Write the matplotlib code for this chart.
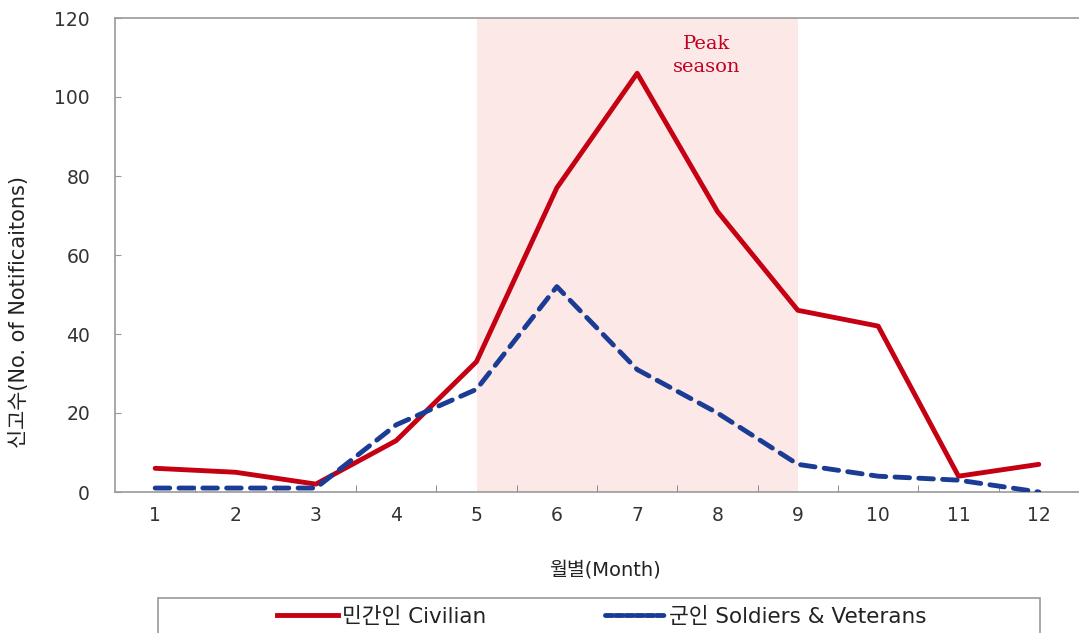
import matplotlib
matplotlib.use("Agg")
import matplotlib.pyplot as plt
from matplotlib.lines import Line2D
from matplotlib.patches import Rectangle

plt.rcParams['font.family'] = ['DejaVu Sans', 'Noto Sans CJK KR']

months = [1, 2, 3, 4, 5, 6, 7, 8, 9, 10, 11, 12]
month_labels = [str(m) for m in months]
civilian = [6, 5, 2, 13, 33, 77, 106, 71, 46, 42, 4, 7]
soldiers = [1, 1, 1, 17, 26, 52, 31, 20, 7, 4, 3, 0]
peak_start, peak_end = 5, 9
yticks = [0, 20, 40, 60, 80, 100, 120]

fig = plt.figure(figsize=(10.79, 6.33), dpi=100)
ax = fig.add_axes([115/1079, 1 - 492/633, 1 - 115/1079, (492 - 18)/633])

ax.axvspan(peak_start, peak_end, color='#FDE8E8', zorder=0, lw=0)
red = '#C40012'
blue = '#1B3C94'
ax.plot(months, civilian, color=red, lw=3.5, zorder=3, solid_capstyle='round')
ax.plot(months, soldiers, color=blue, lw=3.5, zorder=3, linestyle=(0, (3.0, 1.9)),
        dash_capstyle='round')

ax.text(7.87, 110.5, 'Peak\nseason', color='#C00020', ha='center', va='center',
        fontsize=14, family='DejaVu Serif', linespacing=1.3)

ax.set_xlim(0.5, 12.5)
ax.set_ylim(0, 120)
ax.set_xticks(months)
ax.set_xticklabels(month_labels)
ax.set_xticks([m + 0.5 for m in months[:-1]], minor=True)
ax.set_yticks(yticks)
ax.tick_params(axis='x', which='major', length=0, pad=10, labelsize=13.5, colors='#333333')
ax.tick_params(axis='x', which='minor', direction='in', length=5, color='#777777')
ax.tick_params(axis='y', direction='in', length=4, pad=18, labelsize=13.5, color='#999999', labelcolor='#333333')

ax.spines['right'].set_visible(False)
for s in ['left', 'bottom', 'top']:
    ax.spines[s].set_color('#999999')
    ax.spines[s].set_linewidth(1.2)

ax.set_xlabel('월별(Month)', fontsize=14, color='#222222', va='center')
ax.xaxis.set_label_coords((605 - 115) / 964, (492 - 570) / 474)
ax.set_ylabel('신고수(No. of Notificaitons)', fontsize=15, color='#222222', va='center')
ax.yaxis.set_label_coords((19 - 115) / 964, (492 - 312) / 474)

# legend frame
fig.patches.append(Rectangle((158/1079, -0.02), (1040 - 158)/1079, (633 - 598)/633 + 0.02,
                             transform=fig.transFigure, fill=False, edgecolor='#999999', lw=1.2))
handles = [Line2D([], [], color=red, lw=3.5),
           Line2D([], [], color=blue, lw=3.5, linestyle=(0, (1.5, 0.6)), dash_capstyle='round')]
fig.legend(handles, ['민간인 Civilian', '군인 Soldiers & Veterans'], loc='center',
           bbox_to_anchor=(602/1079, 1 - 617/633), ncol=2, frameon=False, fontsize=15.5,
           handlelength=2.8, handletextpad=0.2, columnspacing=5.5, labelcolor='#222222')

fig.savefig('out.png', dpi=100)
